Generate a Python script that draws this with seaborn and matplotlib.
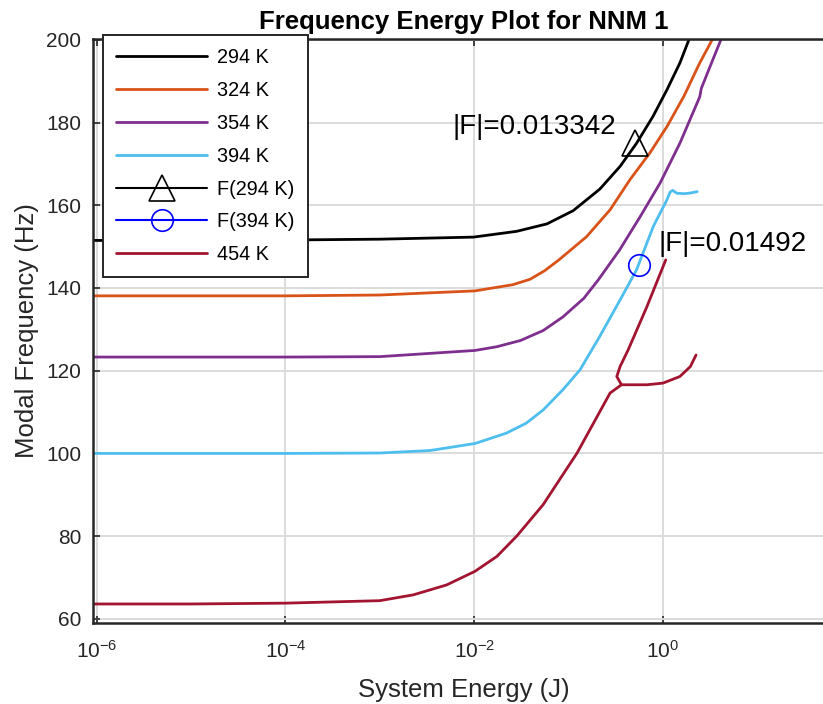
import numpy as np
import pandas as pd
import matplotlib
matplotlib.use("Agg")
import matplotlib.pyplot as plt
import seaborn as sns
from matplotlib.lines import Line2D
from matplotlib.ticker import NullLocator, FixedLocator

# ---------------- data ----------------
series_labels = ["294 K", "324 K", "354 K", "394 K", "454 K"]

energy_294 = [9.16e-7, 1e-5, 1e-4, 1e-3, 9.8e-3, 2.82e-2, 5.9e-2, 0.112, 0.214,
              0.351, 0.525, 0.784, 1.10, 1.51, 1.91]
freq_294 = [151.5, 151.5, 151.6, 151.8, 152.3, 153.7, 155.5, 158.7, 163.9,
            169.4, 175.0, 181.5, 187.9, 194.4, 200.4]

energy_324 = [9.16e-7, 1e-5, 1e-4, 1e-3, 1.02e-2, 2.57e-2, 3.9e-2, 5.6e-2, 7.9e-2, 0.155,
              0.275, 0.447, 0.724, 1.10, 1.66, 2.45, 3.39]
freq_324 = [138.1, 138.1, 138.1, 138.3, 139.3, 140.8, 142.1, 144.2, 146.8, 152.4,
            158.9, 166.2, 172.6, 179.0, 186.3, 194.4, 200.4]

energy_354 = [9.16e-7, 1e-5, 1e-4, 1e-3, 1.02e-2, 1.74e-2, 3.09e-2, 5.37e-2, 8.7e-2,
              0.145, 0.207, 0.347, 0.575, 0.933, 1.51, 2.45, 2.55, 3.16, 4.17]
freq_354 = [123.3, 123.3, 123.3, 123.4, 124.9, 125.8, 127.3, 129.7, 133.0,
            137.5, 142.0, 149.2, 157.3, 165.4, 175.0, 186.2, 188.3, 193.6, 200.4]

energy_394 = [9.16e-7, 1e-5, 1e-4, 1e-3, 3.4e-3, 1.02e-2, 2.19e-2, 3.55e-2, 5.37e-2,
              8.7e-2, 0.132, 0.214, 0.351, 0.525, 0.79, 1.10, 1.19, 1.27, 1.40,
              1.70, 2.0, 2.3]
freq_394 = [100.0, 100.0, 100.0, 100.1, 100.7, 102.4, 104.9, 107.3, 110.5,
            115.4, 120.2, 128.3, 137.1, 144.4, 154.9, 161.3, 163.2, 163.6, 162.9,
            162.8, 163.0, 163.3]

# 454 K: main rise and upper branch, then the lower branch from the turning point
energy_454_a = [9.16e-7, 1e-5, 1e-4, 1e-3, 2.26e-3, 5.1e-3, 1.02e-2, 1.74e-2, 2.82e-2,
                5.37e-2, 0.123, 0.275, 0.363, 0.324, 0.351, 0.427, 0.676, 1.07]
freq_454_a = [63.6, 63.6, 63.8, 64.4, 65.8, 68.2, 71.5, 75.1, 80.0,
              87.6, 100.1, 114.6, 116.6, 118.6, 121.0, 125.0, 135.5, 146.8]
energy_454_b = [0.363, 0.676, 1.0, 1.51, 1.95, 2.24]
freq_454_b = [116.6, 116.6, 117.0, 118.6, 121.0, 123.8]

force_labels = ["|F|=0.013342", "|F|=0.01492"]
force_energy = [0.50, 0.561]
force_freq = [175.0, 145.6]

x_ticks = [1e-6, 1e-4, 1e-2, 1e0]
y_ticks = [60, 80, 100, 120, 140, 160, 180, 200]

# ---------------- styling ----------------
colors = {"294 K": "#000000", "324 K": "#D95319", "354 K": "#7E2F8E",
          "394 K": "#4DBEEE", "454 K": "#A2142F"}

sns.set_theme(style="ticks")
plt.rcParams["font.family"] = ["Liberation Sans", "DejaVu Sans"]
plt.rcParams["mathtext.fontset"] = "custom"
plt.rcParams["mathtext.rm"] = "Liberation Sans"
plt.rcParams["mathtext.it"] = "Liberation Sans:italic"
plt.rcParams["mathtext.bf"] = "Liberation Sans:bold"
txt = "#262626"

# long table
rows = []
def add(series, seg, es, fs):
    for e, f in zip(es, fs):
        rows.append({"energy": e, "freq": f, "series": series, "segment": seg})
add("294 K", "s294", energy_294, freq_294)
add("324 K", "s324", energy_324, freq_324)
add("354 K", "s354", energy_354, freq_354)
add("394 K", "s394", energy_394, freq_394)
add("454 K", "s454a", energy_454_a, freq_454_a)
add("454 K", "s454b", energy_454_b, freq_454_b)
df = pd.DataFrame(rows)

fig = plt.figure(figsize=(8.23, 7.04), dpi=100)
W, H = 823, 704
ax = fig.add_axes([93 / W, 1 - 623 / H, (835 - 93) / W, (623 - 39) / H])

ax.set_xscale("log")
sns.lineplot(data=df, x="energy", y="freq", hue="series", units="segment",
             estimator=None, sort=False, palette=colors, hue_order=series_labels,
             linewidth=2.0, legend=False, ax=ax)

# force markers
ax.plot([force_energy[0]], [force_freq[0]], linestyle="none", marker="^",
        markersize=18.5, markerfacecolor="none", markeredgecolor="black", markeredgewidth=1.2)
ax.plot([force_energy[1]], [force_freq[1]], linestyle="none", marker="o",
        markersize=15.5, markerfacecolor="none", markeredgecolor="#0000FF", markeredgewidth=1.2)

ax.annotate(force_labels[0], xy=(force_energy[0], force_freq[0]), xytext=(-13, 11.5),
            textcoords="offset points", ha="right", va="center", fontsize=20, color="black")
ax.annotate(force_labels[1], xy=(force_energy[1], force_freq[1]), xytext=(13.5, 15),
            textcoords="offset points", ha="left", va="center", fontsize=20, color="black")

ax.set_xlim(9.16e-7, 66.4)
ax.set_ylim(59.0, 200.2)
ax.xaxis.set_major_locator(FixedLocator(x_ticks))
ax.xaxis.set_minor_locator(NullLocator())
ax.set_yticks(y_ticks)

ax.grid(True, which="major", color="#dcdcdc", linewidth=1.4)
ax.set_axisbelow(True)
for s in ax.spines.values():
    s.set_linewidth(1.8)
    s.set_color(txt)
ax.tick_params(axis="both", which="major", direction="in", length=5, width=1.2,
               colors=txt, labelsize=15, top=True, right=True)
ax.tick_params(axis="y", pad=8.5)
ax.tick_params(axis="x", pad=12)

ax.set_xlabel("System Energy (J)", fontsize=18.5, color=txt, labelpad=12)
ax.set_ylabel("Modal Frequency (Hz)", fontsize=18.5, color=txt, labelpad=5)
ax.set_title("Frequency Energy Plot for NNM 1", fontsize=18.5, fontweight="bold",
             color="black", pad=7.5)

handles = [
    Line2D([], [], color=colors["294 K"], lw=2.0),
    Line2D([], [], color=colors["324 K"], lw=2.0),
    Line2D([], [], color=colors["354 K"], lw=2.0),
    Line2D([], [], color=colors["394 K"], lw=2.0),
    Line2D([], [], color="black", lw=1.5, marker="^", markersize=18.5,
           markerfacecolor="none", markeredgewidth=1.2),
    Line2D([], [], color="#0000FF", lw=1.5, marker="o", markersize=15.5,
           markerfacecolor="none", markeredgewidth=1.2),
    Line2D([], [], color=colors["454 K"], lw=2.0),
]
labels = ["294 K", "324 K", "354 K", "394 K", "F(294 K)", "F(394 K)", "454 K"]
leg = ax.legend(handles, labels, loc="upper left", bbox_to_anchor=(103 / W, 1 - 35 / H),
                bbox_transform=fig.transFigure, borderaxespad=0, fontsize=14.3,
                handlelength=4.6, handletextpad=0.5, labelspacing=0.70, borderpad=0.65,
                fancybox=False, framealpha=1, edgecolor=txt, numpoints=1)
leg.get_frame().set_linewidth(1.4)
for t in leg.get_texts():
    t.set_color("black")

fig.savefig("out.png", dpi=100)
